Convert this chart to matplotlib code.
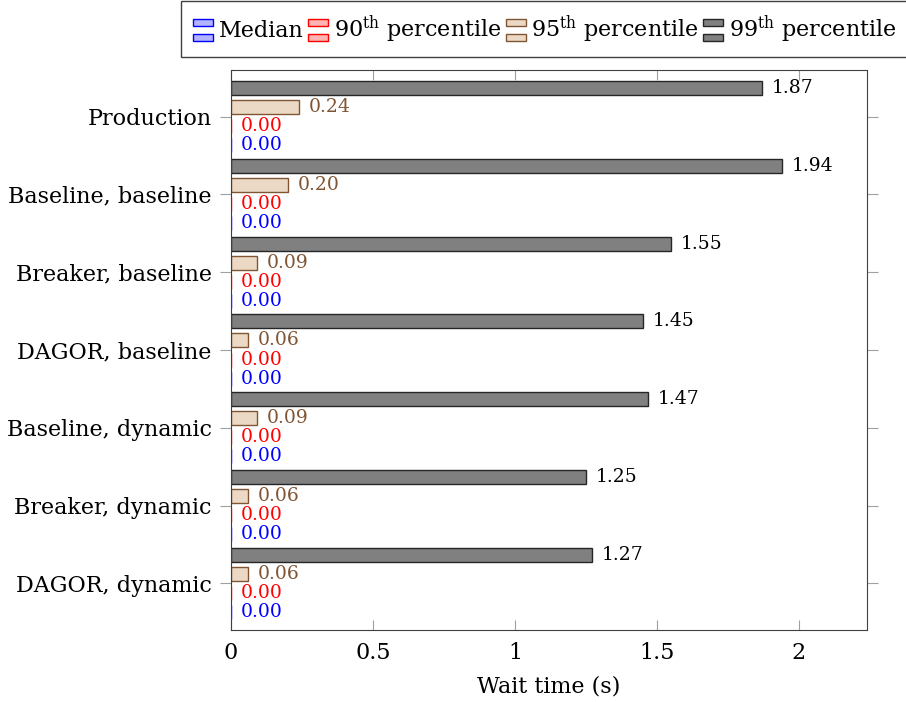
import matplotlib
matplotlib.use('Agg')
import matplotlib.pyplot as plt
from matplotlib.patches import Rectangle
from matplotlib.legend_handler import HandlerBase

plt.rcParams['font.family'] = ['DejaVu Serif']
plt.rcParams['mathtext.fontset'] = 'custom'
plt.rcParams['mathtext.rm'] = 'DejaVu Serif'

configs = ['Production', 'Baseline, baseline', 'Breaker, baseline', 'DAGOR, baseline',
           'Baseline, dynamic', 'Breaker, dynamic', 'DAGOR, dynamic']
median = [0.00, 0.00, 0.00, 0.00, 0.00, 0.00, 0.00]
p90 = [0.00, 0.00, 0.00, 0.00, 0.00, 0.00, 0.00]
p95 = [0.24, 0.20, 0.09, 0.06, 0.09, 0.06, 0.06]
p99 = [1.87, 1.94, 1.55, 1.45, 1.47, 1.25, 1.27]

series = [
    ('Median', median, '#b3b3ff', '#0000ff', '#0000ff', 0.3675),
    ('90$^{\\mathrm{th}}$ percentile', p90, '#ffb3b3', '#ff0000', '#ff0000', 0.1225),
    ('95$^{\\mathrm{th}}$ percentile', p95, '#ebd9c6', '#805533', '#805533', -0.1225),
    ('99$^{\\mathrm{th}}$ percentile', p99, '#808080', '#262626', '#000000', -0.3675),
]


class BarIcon(HandlerBase):
    # pgfplots-style xbar legend icon: two small stacked bars
    def create_artists(self, legend, orig_handle, xdescent, ydescent, width, height, fontsize, trans):
        fc = orig_handle.get_facecolor()
        ec = orig_handle.get_edgecolor()
        h = height * 0.45
        r1 = Rectangle((-xdescent, -ydescent - 0.25 * height), width, h, facecolor=fc, edgecolor=ec, lw=1, transform=trans)
        r2 = Rectangle((-xdescent, -ydescent + 0.72 * height), width, h, facecolor=fc, edgecolor=ec, lw=1, transform=trans)
        return [r1, r2]


fig = plt.figure(figsize=(9.06, 7.02), dpi=100)
ax = fig.add_axes([0.255, 0.1026, 0.702, 0.7977])

ypos = list(range(len(configs)))
handles = []
for name, vals, fc, ec, tc, off in series:
    bars = ax.barh([y + off for y in ypos], vals, height=0.18, color=fc, edgecolor=ec, linewidth=1, label=name)
    handles.append(bars[0])
    for y, v in zip(ypos, vals):
        ax.annotate('%.2f' % v, (v, y + off), xytext=(7, 0), textcoords='offset points',
                    va='center', ha='left', fontsize=13.5, color=tc)

ax.set_xlim(0, 2.24)
ax.set_ylim(6.6, -0.6)
ax.set_yticks(ypos)
ax.set_yticklabels(configs, fontsize=16)
ax.set_xticks([0, 0.5, 1, 1.5, 2])
ax.set_xticklabels(['0', '0.5', '1', '1.5', '2'], fontsize=16)
ax.tick_params(axis='x', direction='in', length=7, color='#a0a0a0', top=True, pad=9)
ax.tick_params(axis='y', direction='out', length=8, color='#a0a0a0', right=True, pad=6)
for s in ax.spines.values():
    s.set_color('#404040')
ax.set_xlabel('Wait time (s)', fontsize=16, labelpad=8)

labels = [s[0] for s in series]
fig.legend(handles, labels, handler_map={h: BarIcon() for h in handles},
           loc='upper right', bbox_to_anchor=(1.003, 0.998), ncol=4, fontsize=16,
           fancybox=False, edgecolor='#404040', framealpha=1, handlelength=0.9,
           handletextpad=0.25, columnspacing=0.2, borderpad=0.55, borderaxespad=0.0)

fig.savefig('out.png', dpi=100)
